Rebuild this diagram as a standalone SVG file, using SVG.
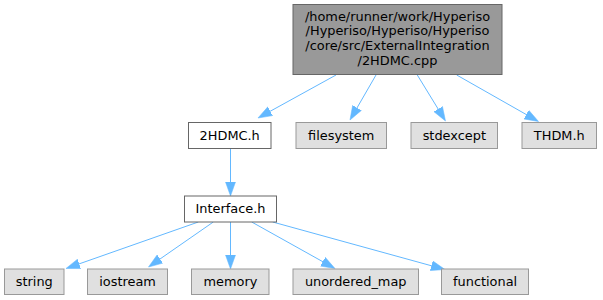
<svg xmlns="http://www.w3.org/2000/svg" width="603" height="300" viewBox="0 0 603 300">
<style>
text { font-family: "DejaVu Sans", sans-serif; font-size: 12.9px; fill: #000; text-anchor: middle; }
.main { fill: #999999; stroke: #666666; stroke-width: 1; }
.white { fill: #ffffff; stroke: #666666; stroke-width: 1; }
.grey { fill: #e0e0e0; stroke: #999999; stroke-width: 1; }
.edge { fill: none; stroke: #63b8ff; stroke-width: 1; }
</style>
<defs>
<marker id="arrow" markerUnits="userSpaceOnUse" markerWidth="15" markerHeight="11" refX="8" refY="5" orient="auto" viewBox="0 0 15 10">
<path d="M0,0 L14,5 L0,10 Z" fill="#63b8ff" stroke="#63b8ff" stroke-width="0.5"/>
</marker>
</defs>
<g id="connectors">
<path class="edge" marker-end="url(#arrow)" d="M336,75 L263.25,115.1"/>
<path class="edge" marker-end="url(#arrow)" d="M376,75 L353,114.8"/>
<path class="edge" marker-end="url(#arrow)" d="M417.3,75 L442.36,115.88"/>
<path class="edge" marker-end="url(#arrow)" d="M456.7,75 L533.28,118.53"/>
<path class="edge" marker-end="url(#arrow)" d="M230.5,148.5 L230.5,190"/>
<path class="edge" marker-end="url(#arrow)" d="M198.3,222 L71.66,266.51"/>
<path class="edge" marker-end="url(#arrow)" d="M213.3,222 L153.43,263.58"/>
<path class="edge" marker-end="url(#arrow)" d="M230.5,222 L230.5,263"/>
<path class="edge" marker-end="url(#arrow)" d="M251.7,222 L329.76,265.58"/>
<path class="edge" marker-end="url(#arrow)" d="M272.7,222 L439.21,267.91"/>
</g>
<g id="node-main">
<rect class="main" x="293" y="4.5" width="209" height="70"/>
<text x="397.5" y="20.5">/home/runner/work/Hyperiso</text>
<text x="397.5" y="35.2">/Hyperiso/Hyperiso/Hyperiso</text>
<text x="397.5" y="49.9">/core/src/ExternalIntegration</text>
<text x="397.5" y="64.6">/2HDMC.cpp</text>
</g>
<g id="node-2hdmc-h">
<rect class="white" x="188.5" y="122.5" width="82.5" height="26"/>
<text x="229.7" y="139.7">2HDMC.h</text>
</g>
<g id="node-filesystem">
<rect class="grey" x="296" y="122.5" width="90.5" height="26"/>
<text x="341.2" y="139.7">filesystem</text>
</g>
<g id="node-stdexcept">
<rect class="grey" x="411" y="122.5" width="86.5" height="26"/>
<text x="454.3" y="139.7">stdexcept</text>
</g>
<g id="node-thdm-h">
<rect class="grey" x="522" y="122.5" width="74.5" height="26"/>
<text x="559.3" y="139.7">THDM.h</text>
</g>
<g id="node-interface-h">
<rect class="white" x="184.5" y="196" width="92" height="26"/>
<text x="230.5" y="213.2">Interface.h</text>
</g>
<g id="node-string">
<rect class="grey" x="4.5" y="269" width="59.5" height="25.5"/>
<text x="34.3" y="286.2">string</text>
</g>
<g id="node-iostream">
<rect class="grey" x="87.5" y="269" width="80" height="25.5"/>
<text x="127.6" y="286.2">iostream</text>
</g>
<g id="node-memory">
<rect class="grey" x="191.5" y="269" width="77.5" height="25.5"/>
<text x="230.4" y="286.2">memory</text>
</g>
<g id="node-unordered-map">
<rect class="grey" x="293" y="269" width="125.5" height="25.5"/>
<text x="355.7" y="286.2">unordered_map</text>
</g>
<g id="node-functional">
<rect class="grey" x="441.5" y="269" width="87" height="25.5"/>
<text x="485.1" y="286.2">functional</text>
</g>
</svg>
